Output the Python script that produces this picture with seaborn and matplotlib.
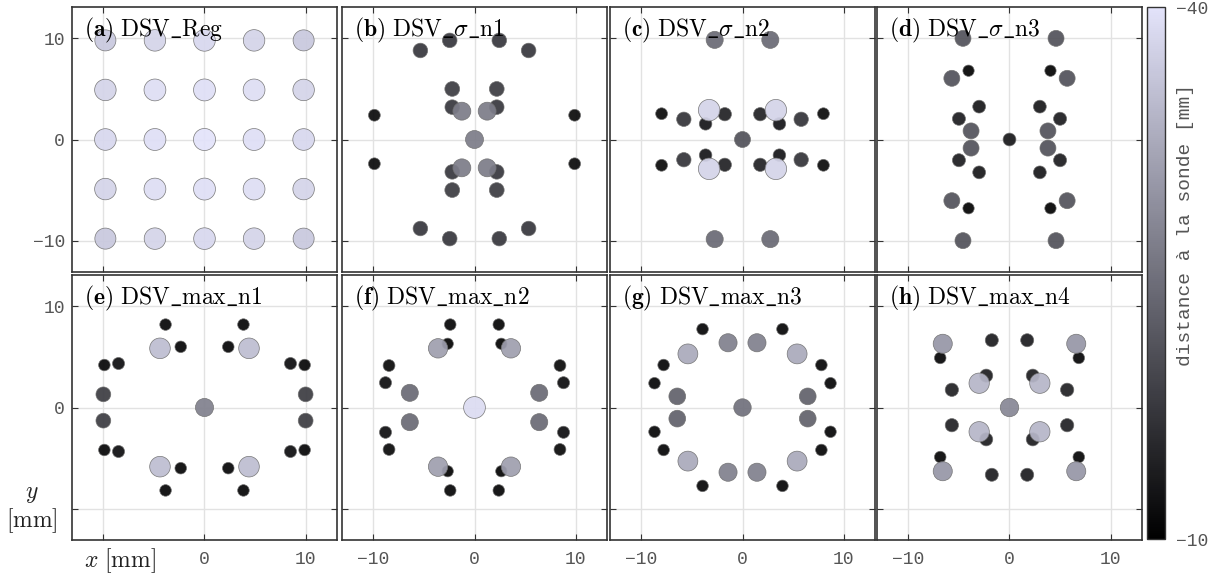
import numpy as np
import pandas as pd
import matplotlib
matplotlib.use("Agg")
import matplotlib.pyplot as plt
import seaborn as sns
from matplotlib.colors import LinearSegmentedColormap, Normalize
from matplotlib.cm import ScalarMappable

# ---------------- data ----------------
titles = [r"$\mathbf{(a)}\ \mathrm{DSV\_Reg}$",
          r"$\mathbf{(b)}\ \mathrm{DSV\_}\sigma\mathrm{\_n1}$",
          r"$\mathbf{(c)}\ \mathrm{DSV\_}\sigma\mathrm{\_n2}$",
          r"$\mathbf{(d)}\ \mathrm{DSV\_}\sigma\mathrm{\_n3}$",
          r"$\mathbf{(e)}\ \mathrm{DSV\_max\_n1}$",
          r"$\mathbf{(f)}\ \mathrm{DSV\_max\_n2}$",
          r"$\mathbf{(g)}\ \mathrm{DSV\_max\_n3}$",
          r"$\mathbf{(h)}\ \mathrm{DSV\_max\_n4}$"]

a_x = [-9.8, -4.9, 0, 4.9, 9.8, -9.8, -4.9, 0, 4.9, 9.8, -9.8, -4.9, 0, 4.9, 9.8,
       -9.8, -4.9, 0, 4.9, 9.8, -9.8, -4.9, 0, 4.9, 9.8]
a_y = [9.8, 9.8, 9.8, 9.8, 9.8, 4.9, 4.9, 4.9, 4.9, 4.9, 0, 0, 0, 0, 0,
       -4.9, -4.9, -4.9, -4.9, -4.9, -9.8, -9.8, -9.8, -9.8, -9.8]
a_z = [-36.5, -38.0, -38.5, -38.0, -36.5,
       -38.0, -39.2, -39.5, -39.2, -38.0,
       -38.5, -39.5, -40.0, -39.5, -38.5,
       -38.0, -39.2, -39.5, -39.2, -38.0,
       -36.5, -38.0, -38.5, -38.0, -36.5]

b_x = [-9.9, 9.9, -9.9, 9.9, -5.35, 5.35, -5.35, 5.35, -2.45, 2.45, -2.45, 2.45,
       -2.2, 2.2, -2.2, 2.2, -2.2, 2.2, -2.2, 2.2, -1.25, 1.25, -1.25, 1.25, 0]
b_y = [2.4, 2.4, -2.4, -2.4, 8.8, 8.8, -8.8, -8.8, 9.8, 9.8, -9.8, -9.8,
       5.0, 5.0, -5.0, -5.0, 3.2, 3.2, -3.2, -3.2, 2.8, 2.8, -2.8, -2.8, 0]
b_z = [-11.5, -11.5, -11.5, -11.5, -17.5, -17.5, -17.5, -17.5, -17.5, -17.5, -17.5, -17.5,
       -18, -18, -18, -18, -17.5, -17.5, -17.5, -17.5, -26.5, -26.5, -26.5, -26.5, -26.5]

c_x = [-2.75, 2.75, -2.75, 2.75, -3.3, 3.3, -3.3, 3.3, -8.0, 8.0, -8.0, 8.0,
       -5.8, 5.8, -5.8, 5.8, -3.65, 3.65, -3.65, 3.65, -1.75, 1.75, -1.75, 1.75, 0]
c_y = [9.85, 9.85, -9.85, -9.85, 2.9, 2.9, -2.9, -2.9, 2.55, 2.55, -2.55, -2.55,
       2.0, 2.0, -2.0, -2.0, 1.55, 1.55, -1.55, -1.55, 2.5, 2.5, -2.5, -2.5, 0]
c_z = [-24, -24, -24, -24, -38, -38, -38, -38, -11.5, -11.5, -11.5, -11.5,
       -17, -17, -17, -17, -13, -13, -13, -13, -14.5, -14.5, -14.5, -14.5, -21]

d_x = [-4.6, 4.6, -4.6, 4.6, -5.7, 5.7, -5.7, 5.7, -4.05, 4.05, -4.05, 4.05,
       -3.0, 3.0, -3.0, 3.0, -5.0, 5.0, -5.0, 5.0, -3.8, 3.8, -3.8, 3.8, 0]
d_y = [10.0, 10.0, -10.0, -10.0, 6.05, 6.05, -6.05, -6.05, 6.8, 6.8, -6.8, -6.8,
       3.25, 3.25, -3.25, -3.25, 2.05, 2.05, -2.05, -2.05, 0.85, 0.85, -0.85, -0.85, 0]
d_z = [-21, -21, -21, -21, -21, -21, -21, -21, -10.5, -10.5, -10.5, -10.5,
       -13.5, -13.5, -13.5, -13.5, -14, -14, -14, -14, -21, -21, -21, -21, -13.5]

e_x = [0, -4.4, 4.4, -4.4, 4.4, -3.85, 3.85, -3.85, 3.85, -2.35, 2.35, -2.35, 2.35,
       -9.9, 9.9, -9.9, 9.9, -8.5, 8.5, -8.5, 8.5, -10.0, 10.0, -10.0, 10.0]
e_y = [0, 5.85, 5.85, -5.85, -5.85, 8.2, 8.2, -8.2, -8.2, 6.0, 6.0, -6.0, -6.0,
       4.2, 4.2, -4.2, -4.2, 4.35, 4.35, -4.35, -4.35, 1.3, 1.3, -1.3, -1.3]
e_z = [-27, -35, -35, -35, -35, -11, -11, -11, -11, -11, -11, -11, -11,
       -11, -11, -11, -11, -12, -12, -12, -12, -18, -18, -18, -18]

f_x = [0, -3.6, 3.6, -3.6, 3.6, -6.4, 6.4, -6.4, 6.4, -2.4, 2.4, -2.4, 2.4,
       -2.65, 2.65, -2.65, 2.65, -8.45, 8.45, -8.45, 8.45, -8.8, 8.8, -8.8, 8.8]
f_y = [0, 5.85, 5.85, -5.85, -5.85, 1.45, 1.45, -1.45, -1.45, 8.2, 8.2, -8.2, -8.2,
       6.3, 6.3, -6.3, -6.3, 4.15, 4.15, -4.15, -4.15, 2.45, 2.45, -2.45, -2.45]
f_z = [-39, -31, -31, -31, -31, -24, -24, -24, -24, -11, -11, -11, -11,
       -10.5, -10.5, -10.5, -10.5, -11.5, -11.5, -11.5, -11.5, -12, -12, -12, -12]

g_x = [0, -5.4, 5.4, -5.4, 5.4, -1.43, 1.43, -1.43, 1.43, -6.45, 6.45, -6.45, 6.45,
       -3.95, 3.95, -3.95, 3.95, -7.8, 7.8, -7.8, 7.8, -8.7, 8.7, -8.7, 8.7]
g_y = [0, 5.3, 5.3, -5.3, -5.3, 6.4, 6.4, -6.4, -6.4, 1.1, 1.1, -1.1, -1.1,
       7.75, 7.75, -7.75, -7.75, 4.2, 4.2, -4.2, -4.2, 2.4, 2.4, -2.4, -2.4]
g_z = [-25, -32.5, -32.5, -32.5, -32.5, -27, -27, -27, -27, -23, -23, -23, -23,
       -11, -11, -11, -11, -11, -11, -11, -11, -11, -11, -11, -11]

h_x = [0, -6.6, 6.6, -6.6, 6.6, -6.85, 6.85, -6.85, 6.85, -1.75, 1.75, -1.75, 1.75,
       -2.3, 2.3, -2.3, 2.3, -3.0, 3.0, -3.0, 3.0, -5.7, 5.7, -5.7, 5.7]
h_y = [0, 6.3, 6.3, -6.3, -6.3, 4.9, 4.9, -4.9, -4.9, 6.65, 6.65, -6.65, -6.65,
       3.15, 3.15, -3.15, -3.15, 2.4, 2.4, -2.4, -2.4, 1.75, 1.75, -1.75, -1.75]
h_z = [-28, -30, -30, -30, -30, -11, -11, -11, -11, -14, -14, -14, -14,
       -14, -14, -14, -14, -34, -34, -34, -34, -14.5, -14.5, -14.5, -14.5]

panels = [(a_x, a_y, a_z), (b_x, b_y, b_z), (c_x, c_y, c_z), (d_x, d_y, d_z),
          (e_x, e_y, e_z), (f_x, f_y, f_z), (g_x, g_y, g_z), (h_x, h_y, h_z)]

ticks = [-10, 0, 10]
cbar_ticks = [-40, -10]
cbar_label = "distance à la sonde [mm]"

# ---------------- style ----------------
plt.rcParams['mathtext.fontset'] = 'cm'
mono = ['Liberation Mono', 'DejaVu Sans Mono']
tick_color = '#555555'
spine_color = '#333333'

cmap = LinearSegmentedColormap.from_list("lav", ["#e3e3fa", "#000000"])
vmin, vmax = -40, -10

W, H = 1214, 579
fig = plt.figure(figsize=(W / 100, H / 100), dpi=100)

lefts = [72, 342, 610, 877]
tops = [7, 275]
size_px = 265

def rect(l, t, w, h):
    return [l / W, 1 - (t + h) / H, w / W, h / H]

lim = 13.1
axes = []
for i, (px, py, pz) in enumerate(panels):
    r, c = divmod(i, 4)
    ax = fig.add_axes(rect(lefts[c], tops[r], size_px, size_px))
    axes.append(ax)
    df = pd.DataFrame({"x": px, "y": py, "z": pz})
    df["absz"] = -df["z"]
    df = df.sort_values("absz", kind="stable")
    sns.scatterplot(data=df, x="x", y="y", hue="z", size="absz",
                    palette=cmap, hue_norm=(vmin, vmax),
                    sizes=(63, 252), size_norm=(10, 40),
                    edgecolor="#6f6f6f", linewidth=0.5, alpha=0.93,
                    legend=False, ax=ax, zorder=3)
    ax.set_xlim(-lim, lim)
    ax.set_ylim(-lim, lim)
    ax.set_xticks(ticks)
    ax.set_yticks(ticks)
    ax.set_xlabel("")
    ax.set_ylabel("")
    ax.grid(True, color="#e2e2e2", lw=1.0, zorder=0)
    ax.set_axisbelow(True)
    ax.tick_params(direction="in", length=4, width=0.8, color=spine_color,
                   top=True, right=True, labelsize=13, labelcolor=tick_color)
    ax.tick_params(axis="x", pad=8)
    ax.tick_params(axis="y", pad=5)
    for s in ax.spines.values():
        s.set_color(spine_color)
        s.set_linewidth(1.2)
    for lab in ax.get_xticklabels() + ax.get_yticklabels():
        lab.set_family(mono)
    if r == 0:
        ax.set_xticklabels([])
    if c != 0:
        ax.set_yticklabels([])
    ax.text(0.045, 0.965, titles[i], transform=ax.transAxes, ha="left", va="top",
            fontsize=17, color="black", zorder=5)

# panel (e): axis-name labels take the place of the -10 tick labels
axe = axes[4]
axe.set_xticklabels(["", "0", "10"], family=mono)
axe.set_yticklabels(["", "0", "10"], family=mono)
axa = axes[0]
axa.set_yticklabels(["\u221210", "0", "10"], family=mono)
fig.text(120 / W, 1 - 561 / H, r"$x\ [\mathrm{mm}]$", ha="center", va="center",
         fontsize=17, color="#222222")
fig.text(32 / W, 1 - 508 / H, "$y$\n$[\\mathrm{mm}]$", ha="center", va="center",
         fontsize=17, color="#222222", linespacing=1.05)

# colorbar
cax = fig.add_axes(rect(1147, 7, 18, 532))
sm = ScalarMappable(norm=Normalize(vmin, vmax), cmap=cmap)
cb = fig.colorbar(sm, cax=cax, ticks=cbar_ticks)
cax.invert_yaxis()
cb.outline.set_edgecolor(spine_color)
cb.outline.set_linewidth(1.0)
cax.tick_params(length=0, labelsize=13, labelcolor=tick_color, pad=8)
for lab in cax.get_yticklabels():
    lab.set_family(mono)
fig.text(1186 / W, 1 - 225 / H, cbar_label, rotation=90, ha="center", va="center",
         family=mono, fontsize=14, color=tick_color)

fig.savefig("out.png", dpi=100)
